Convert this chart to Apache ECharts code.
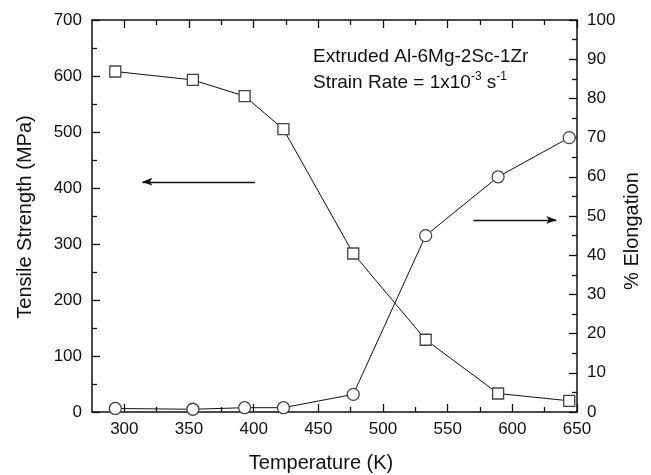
<!DOCTYPE html>
<html>
<head>
<meta charset="utf-8">
<script src="https://cdn.jsdelivr.net/npm/echarts@6/dist/echarts.min.js"></script>
<style>
html,body{margin:0;padding:0;background:#fff;}
#chart{width:651px;height:475px;}
</style>
</head>
<body>
<div id="chart"></div>
<script>
const temperature = [293, 353, 393, 423, 477, 533, 589, 644];
const tensileStrength = [608, 593, 564, 505, 283, 129, 33, 20];
const elongation = [0.9, 0.7, 1.1, 1.1, 4.5, 45, 60, 70];
const xMajorTicks = [300, 350, 400, 450, 500, 550, 600, 650];
const xMinorTicks = [325, 375, 425, 475, 525, 575, 625];
const strengthArrow = [[401, 411], [314, 411]];
const elongationArrow = [[570, 49], [634, 49]];

const FONT = '"Liberation Sans", Arial, Helvetica, sans-serif';
const ink = '#111';

const chart = echarts.init(document.getElementById('chart'), null, {renderer: 'canvas'});

function xAxisDef(position, ticks, len, showLine, showLabel) {
  return {
    type: 'value', position: position, min: 275, max: 650,
    axisLine: {show: showLine, lineStyle: {color: ink, width: 1.5}},
    axisTick: {show: true, inside: true, length: len, customValues: ticks, lineStyle: {color: ink, width: 1.3}},
    axisLabel: {show: showLabel, customValues: ticks, color: ink, fontSize: 17, fontFamily: FONT, margin: 9},
    splitLine: {show: false}
  };
}

const option = {
  animation: false,
  backgroundColor: '#fff',
  grid: {left: 92, right: 74, top: 20, bottom: 63, containLabel: false, outerBoundsMode: 'none'},
  xAxis: [
    xAxisDef('bottom', xMajorTicks, 8, true, true),
    xAxisDef('bottom', xMinorTicks, 5, false, false),
    xAxisDef('top', xMajorTicks, 8, true, false),
    xAxisDef('top', xMinorTicks, 5, false, false)
  ],
  yAxis: [
    {
      type: 'value', position: 'left', min: 0, max: 700, interval: 100,
      axisLine: {show: true, lineStyle: {color: ink, width: 1.5}},
      axisTick: {show: true, inside: true, length: 8, lineStyle: {color: ink, width: 1.3}},
      minorTick: {show: true, splitNumber: 2, length: 5, lineStyle: {color: ink, width: 1.3}},
      axisLabel: {color: ink, fontSize: 17, fontFamily: FONT, margin: 10},
      splitLine: {show: false}, minorSplitLine: {show: false}
    },
    {
      type: 'value', position: 'right', min: 0, max: 100, interval: 10,
      axisLine: {show: true, lineStyle: {color: ink, width: 1.5}},
      axisTick: {show: true, inside: true, length: 8, lineStyle: {color: ink, width: 1.3}},
      minorTick: {show: true, splitNumber: 2, length: 5, lineStyle: {color: ink, width: 1.3}},
      axisLabel: {color: ink, fontSize: 17, fontFamily: FONT, margin: 10},
      splitLine: {show: false}, minorSplitLine: {show: false}
    }
  ],
  series: [
    {
      name: 'Tensile Strength', type: 'line', xAxisIndex: 0, yAxisIndex: 0,
      data: temperature.map((t, i) => [t, tensileStrength[i]]),
      symbol: 'rect', symbolSize: 11, showAllSymbol: true,
      lineStyle: {color: ink, width: 1},
      itemStyle: {color: '#fff', borderColor: '#444', borderWidth: 1.3},
      z: 3,
      markLine: {
        silent: true, symbol: ['none', 'arrow'], symbolSize: [6, 10],
        lineStyle: {color: ink, width: 1.3, type: 'solid'},
        label: {show: false},
        data: [[{coord: strengthArrow[0]}, {coord: strengthArrow[1]}]]
      }
    },
    {
      name: '% Elongation', type: 'line', xAxisIndex: 0, yAxisIndex: 1,
      data: temperature.map((t, i) => [t, elongation[i]]),
      symbol: 'circle', symbolSize: 12, showAllSymbol: true,
      lineStyle: {color: ink, width: 1},
      itemStyle: {color: '#fff', borderColor: '#444', borderWidth: 1.3},
      z: 3,
      markLine: {
        silent: true, symbol: ['none', 'arrow'], symbolSize: [6, 10],
        lineStyle: {color: ink, width: 1.3, type: 'solid'},
        label: {show: false},
        data: [[{coord: elongationArrow[0]}, {coord: elongationArrow[1]}]]
      }
    }
  ],
  graphic: [
    {
      type: 'text', x: 321, y: 463,
      style: {text: 'Temperature (K)', font: '20px ' + FONT, fill: ink, textAlign: 'center', textVerticalAlign: 'middle'}
    },
    {
      type: 'text', x: 25, y: 217, rotation: Math.PI / 2,
      style: {text: 'Tensile Strength (MPa)', font: '20px ' + FONT, fill: ink, textAlign: 'center', textVerticalAlign: 'middle'}
    },
    {
      type: 'text', x: 632, y: 231, rotation: Math.PI / 2,
      style: {text: '% Elongation', font: '20px ' + FONT, fill: ink, textAlign: 'center', textVerticalAlign: 'middle'}
    },
    {
      type: 'text', x: 313, y: 57,
      style: {text: 'Extruded Al-6Mg-2Sc-1Zr', font: '19px ' + FONT, fill: ink, textAlign: 'left', textVerticalAlign: 'middle'}
    },
    {
      type: 'text', x: 313, y: 83,
      style: {
        text: '{a|Strain Rate = 1x10}{s|-3}{a| s}{s|-1}',
        fill: ink, textAlign: 'left', textVerticalAlign: 'middle',
        rich: {
          a: {fontSize: 19, fontFamily: FONT, fill: ink, lineHeight: 22},
          s: {fontSize: 12, fontFamily: FONT, fill: ink, padding: [0, 0, 12, 0], lineHeight: 12}
        }
      }
    }
  ]
};
chart.setOption(option);
</script>
</body>
</html>
